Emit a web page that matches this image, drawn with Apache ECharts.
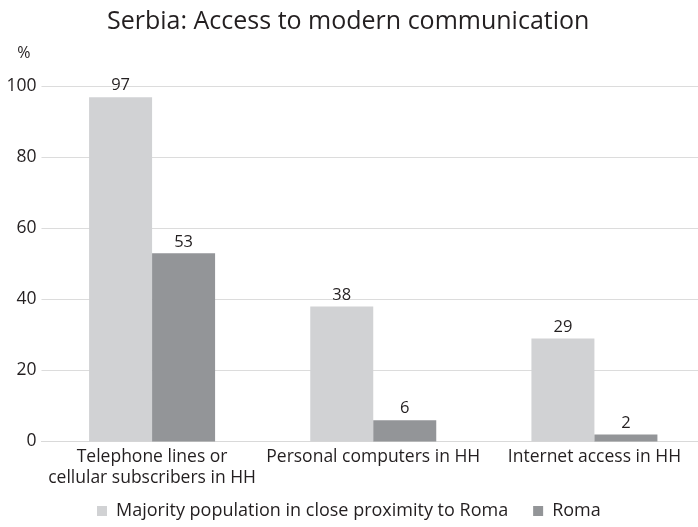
<!DOCTYPE html>
<html>
<head>
<meta charset="utf-8">
<script src="https://cdn.jsdelivr.net/npm/echarts@6/dist/echarts.min.js"></script>
<style>
  html, body { margin: 0; padding: 0; background: #fff; overflow: hidden; }
  /* the plot area runs a few pixels past the right edge of the window */
  #chart { width: 705px; height: 527px; }
</style>
</head>
<body>
<div id="chart"></div>
<script>
// Categories and values (percent of households)
const categories = [
  'Telephone lines or\ncellular subscribers in HH',
  'Personal computers in HH',
  'Internet access in HH'
];
const majorityValues = [97, 38, 29];
const romaValues = [53, 6, 2];
const seriesNames = ['Majority population in close proximity to Roma', 'Roma'];
const yTicks = { min: 0, max: 100, interval: 20 };

const FONT = '"Open Sans", "Noto Sans", sans-serif';
const TEXT = '#231f20';

const chart = echarts.init(document.getElementById('chart'));
chart.setOption({
  animation: false,
  textStyle: { fontFamily: FONT, color: TEXT },
  title: {
    text: 'Serbia: Access to modern communication',
    left: 102,
    top: 4,
    textStyle: { fontFamily: FONT, fontSize: 25, fontWeight: 'normal', color: TEXT }
  },
  legend: {
    bottom: 2,
    left: 92,
    itemWidth: 10,
    itemHeight: 10,
    itemGap: 25,
    icon: 'rect',
    textStyle: { fontFamily: FONT, fontSize: 18, color: TEXT, padding: [0, 0, 0, 4] },
    data: seriesNames
  },
  grid: { left: 41.5, right: 0, top: 86.5, bottom: 85.5, containLabel: false },
  xAxis: {
    type: 'category',
    data: categories,
    axisLine: { lineStyle: { color: '#d9d9d9', width: 1 } },
    axisTick: { show: false },
    axisLabel: { fontFamily: FONT, fontSize: 17.5, color: TEXT, lineHeight: 21, margin: 5, interval: 0 }
  },
  yAxis: {
    type: 'value',
    min: yTicks.min,
    max: yTicks.max,
    interval: yTicks.interval,
    name: '%',
    nameLocation: 'end',
    nameGap: 25,
    nameTextStyle: { fontFamily: FONT, fontSize: 16, color: TEXT, align: 'right', padding: [0, 11, 0, 0] },
    axisLine: { show: false },
    axisTick: { show: false },
    splitLine: { lineStyle: { color: '#dcdcdc', width: 1.2 } },
    axisLabel: { fontFamily: FONT, fontSize: 17.5, color: TEXT, margin: 5 }
  },
  series: [
    {
      name: seriesNames[0],
      type: 'bar',
      data: majorityValues,
      barWidth: 63,
      barGap: '0%',
      itemStyle: { color: '#d1d2d4' },
      label: { show: true, position: 'top', distance: 3, fontFamily: FONT, fontSize: 16.5, color: TEXT }
    },
    {
      name: seriesNames[1],
      type: 'bar',
      data: romaValues,
      barWidth: 63,
      barGap: '0%',
      itemStyle: { color: '#939598' },
      label: { show: true, position: 'top', distance: 3, fontFamily: FONT, fontSize: 16.5, color: TEXT }
    }
  ]
});
</script>
</body>
</html>
